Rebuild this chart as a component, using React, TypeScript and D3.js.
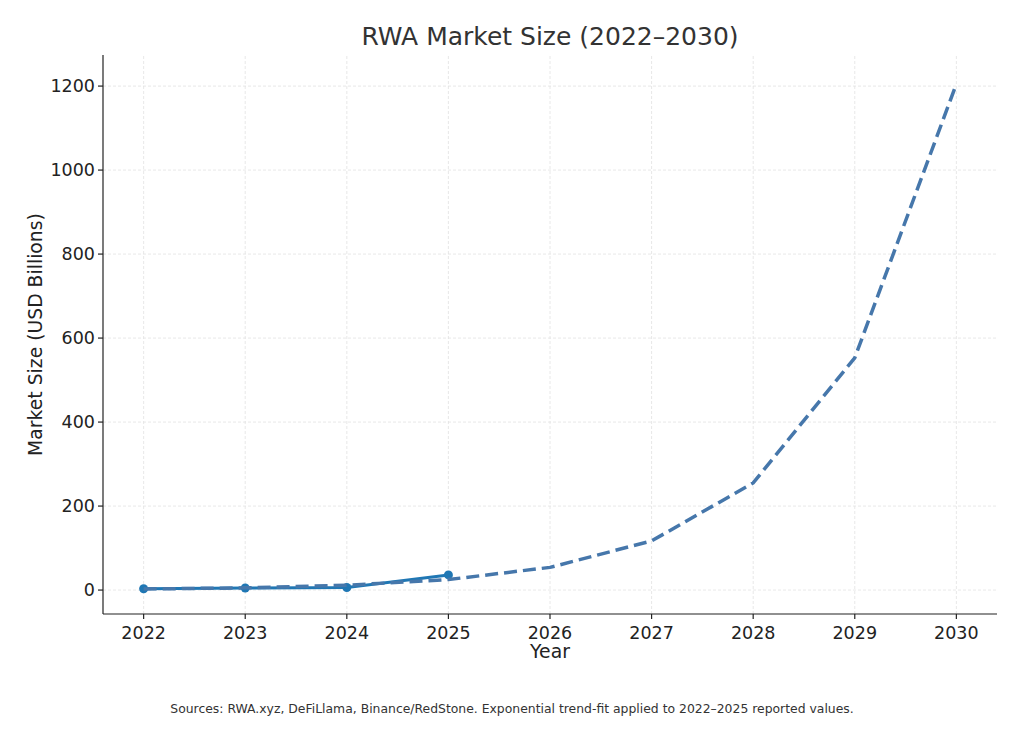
import React from "react";
import * as d3 from "d3";

const years = [2022, 2023, 2024, 2025, 2026, 2027, 2028, 2029, 2030];
const reportedYears = [2022, 2023, 2024, 2025];
const reportedValues = [3, 5, 6, 36];
const trendValues = [2.5, 5.3, 11.5, 25, 54, 117, 255, 553, 1205];
const yTicks = [0, 200, 400, 600, 800, 1000, 1200];

const W = 1024;
const H = 743;
const margin = { left: 103, right: 27, top: 55, bottom: 129 };
const FONT = "DejaVu Sans, sans-serif";

export default function App() {
  const x = d3
    .scaleLinear()
    .domain([2021.6, 2030.4])
    .range([margin.left, W - margin.right]);
  const y = d3
    .scaleLinear()
    .domain([-57, 1274])
    .range([H - margin.bottom, margin.top]);

  const line = d3
    .line<[number, number]>()
    .x((d) => x(d[0]))
    .y((d) => y(d[1]));

  const reported: [number, number][] = reportedYears.map((yr, i) => [yr, reportedValues[i]]);
  const trend: [number, number][] = years.map((yr, i) => [yr, trendValues[i]]);

  const x0 = margin.left;
  const x1 = W - margin.right;
  const y0 = H - margin.bottom;
  const y1 = margin.top;

  return (
    <svg width={W} height={H} style={{ position: "absolute", left: 0, top: 0, background: "#fff" }}>
      <rect width={W} height={H} fill="#fff" />
      {/* grid */}
      <g stroke="#e2e2e2" strokeWidth={0.8} strokeDasharray="3,2">
        {years.map((yr) => (
          <line key={"gx" + yr} x1={x(yr)} x2={x(yr)} y1={y0} y2={y1} />
        ))}
        {yTicks.map((t) => (
          <line key={"gy" + t} x1={x0} x2={x1} y1={y(t)} y2={y(t)} />
        ))}
      </g>

      {/* reported values */}
      <path d={line(reported) || ""} fill="none" stroke="#1f77b4" strokeWidth={3} strokeLinejoin="round" />
      {reported.map((d, i) => (
        <circle key={"m" + i} cx={x(d[0])} cy={y(d[1])} r={4.5} fill="#1f77b4" />
      ))}

      {/* exponential trend */}
      <path
        d={line(trend) || ""}
        fill="none"
        stroke="#4677ab"
        strokeWidth={3.5}
        strokeDasharray="13,6"
      />

      {/* axes */}
      <g stroke="#222" strokeWidth={1.2}>
        <line x1={x0} x2={x0} y1={y0} y2={y1} />
        <line x1={x0} x2={x1} y1={y0} y2={y0} />
        {years.map((yr) => (
          <line key={"tx" + yr} x1={x(yr)} x2={x(yr)} y1={y0} y2={y0 + 5} />
        ))}
        {yTicks.map((t) => (
          <line key={"ty" + t} x1={x0 - 5} x2={x0} y1={y(t)} y2={y(t)} />
        ))}
      </g>
      <g fontFamily={FONT} fontSize={17.5} fill="#222">
        {years.map((yr) => (
          <text key={"lx" + yr} x={x(yr)} y={y0 + 25} textAnchor="middle">
            {yr}
          </text>
        ))}
        {yTicks.map((t) => (
          <text key={"ly" + t} x={x0 - 8} y={y(t) + 6} textAnchor="end">
            {t}
          </text>
        ))}
      </g>
      <g fontFamily={FONT} fontSize={18.8} fill="#222">
        <text x={(x0 + x1) / 2} y={658} textAnchor="middle">
          Year
        </text>
        <text transform={`translate(42,${(y0 + y1) / 2}) rotate(-90)`} textAnchor="middle">
          Market Size (USD Billions)
        </text>
      </g>
      <text x={(x0 + x1) / 2} y={45} textAnchor="middle" fontFamily={FONT} fontSize={25} fill="#333">
        RWA Market Size (2022–2030)
      </text>
      <text x={512} y={713} textAnchor="middle" fontFamily={FONT} fontSize={12.4} fill="#333">
        Sources: RWA.xyz, DeFiLlama, Binance/RedStone. Exponential trend-fit applied to 2022–2025 reported values.
      </text>
    </svg>
  );
}
